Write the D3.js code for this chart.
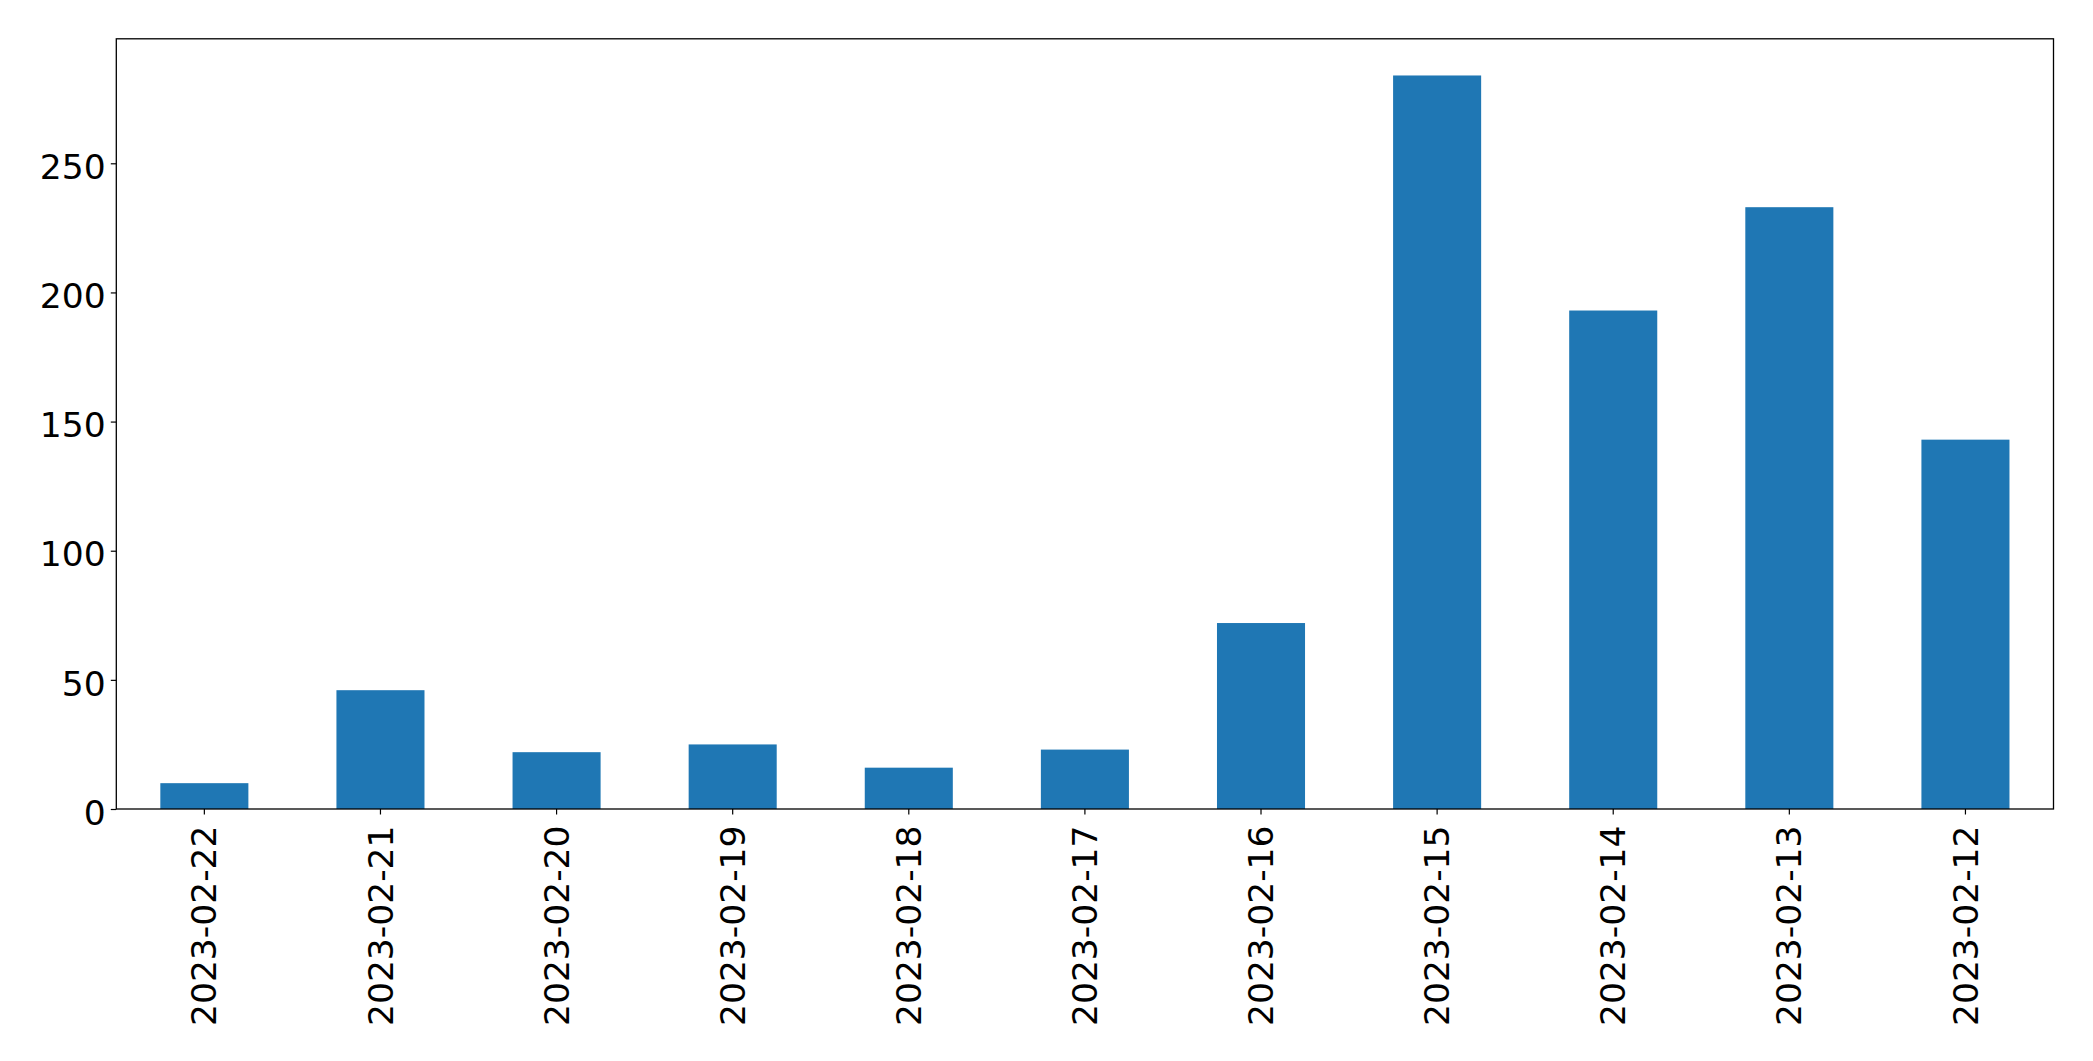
<!DOCTYPE html>
<html>
<head>
<meta charset="utf-8">
<script src="https://cdn.jsdelivr.net/npm/d3@7"></script>
<style>
  html, body { margin: 0; padding: 0; background: #fff; }
  svg { display: block; }
  text { font-family: "DejaVu Sans", sans-serif; fill: #000; }
</style>
</head>
<body>
<svg id="chart" width="2093" height="1061"></svg>
<script>
const categories = ["2023-02-22","2023-02-21","2023-02-20","2023-02-19","2023-02-18","2023-02-17","2023-02-16","2023-02-15","2023-02-14","2023-02-13","2023-02-12"];
const values = [10, 46, 22, 25, 16, 23, 72, 284, 193, 233, 143];
const yTicks = [0, 50, 100, 150, 200, 250];

const W = 2093, H = 1061;
const margin = {left: 116.3, right: 2093 - 2053.5, top: 38.8, bottom: 1061 - 809};
const iw = W - margin.left - margin.right;
const ih = H - margin.top - margin.bottom;

const svg = d3.select("#chart");
const g = svg.append("g").attr("transform", `translate(${margin.left},${margin.top})`);

const x = d3.scaleBand().domain(categories).range([0, iw]).paddingInner(0.5).paddingOuter(0.25);
const y = d3.scaleLinear().domain([0, d3.max(values) * 1.05]).range([ih, 0]);

g.selectAll("rect.bar").data(values).join("rect")
  .attr("class", "bar")
  .attr("x", (d, i) => x(categories[i]))
  .attr("width", x.bandwidth())
  .attr("y", d => y(d))
  .attr("height", d => y(0) - y(d))
  .attr("fill", "#1f77b4");

const fs = 34.5;
const tickLen = 5.5;

// Y axis
const yAxis = g.append("g").call(d3.axisLeft(y).tickValues(yTicks).tickSize(tickLen).tickPadding(5.2).tickFormat(d3.format("d")));
yAxis.select(".domain").remove();
yAxis.selectAll(".tick line").attr("stroke", "#000").attr("stroke-width", 1.2);
yAxis.selectAll(".tick text").attr("font-size", fs).attr("dy", "0.44em").attr("font-family", "DejaVu Sans");

// X axis
const xAxis = g.append("g").attr("transform", `translate(0,${ih})`).call(d3.axisBottom(x).tickSize(tickLen).tickPadding(0));
xAxis.select(".domain").remove();
xAxis.selectAll(".tick line").attr("stroke", "#000").attr("stroke-width", 1.2);
xAxis.selectAll(".tick text")
  .attr("font-size", fs)
  .attr("font-family", "DejaVu Sans")
  .attr("text-anchor", "end")
  .attr("transform", "rotate(-90)")
  .attr("x", -16.5)
  .attr("y", 0)
  .attr("dy", "0.35em");

// Frame
g.append("rect").attr("x", 0).attr("y", 0).attr("width", iw).attr("height", ih)
  .attr("fill", "none").attr("stroke", "#000").attr("stroke-width", 1.3);
</script>
</body>
</html>
